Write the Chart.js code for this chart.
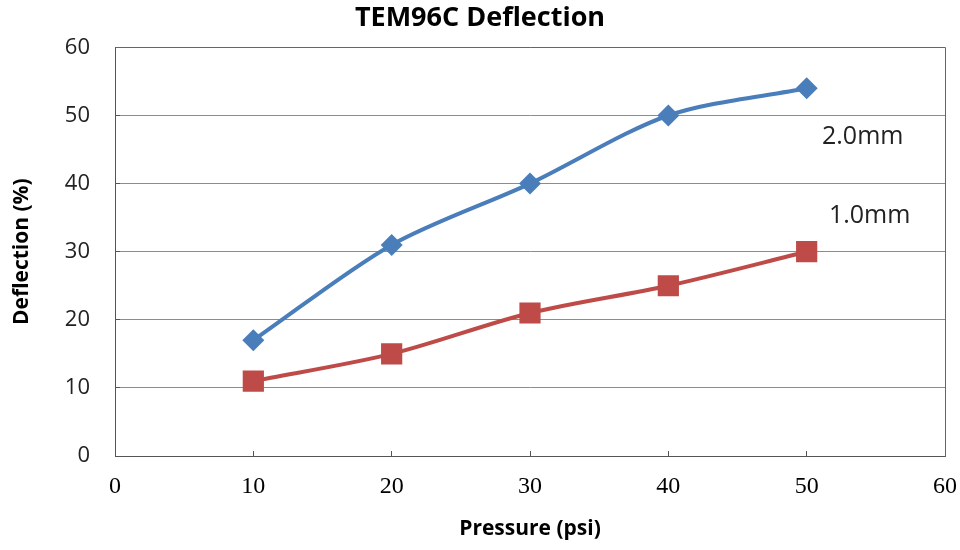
<!DOCTYPE html>
<html>
<head>
<meta charset="utf-8">
<script src="https://cdn.jsdelivr.net/npm/chart.js@4"></script>
<style>
  html, body { margin: 0; padding: 0; background: #fff; }
  #wrap { width: 960px; height: 550px; }
</style>
</head>
<body>
<div id="wrap"><canvas id="c" width="960" height="550"></canvas></div>
<script>
const pressure = [10, 20, 30, 40, 50];
const deflection20 = [17, 31, 40, 50, 54];
const deflection10 = [11, 15, 21, 25, 30];
const seriesNames = ['2.0mm', '1.0mm'];
const xTicks = [0, 10, 20, 30, 40, 50, 60];
const yTicks = [0, 10, 20, 30, 40, 50, 60];

const BLUE = '#4A7EBB';
const RED = '#BE4B48';

const toPoints = (xs, ys) => xs.map((x, i) => ({ x: x, y: ys[i] }));

// series label placement (in data units)
const seriesLabels = [
  { text: seriesNames[0], x: 54.05, y: 46.8 },
  { text: seriesNames[1], x: 54.55, y: 35.3 }
];

const frameAndLabels = {
  id: 'frameAndLabels',
  afterDraw(chart) {
    const { ctx, chartArea: a, scales } = chart;
    ctx.save();
    ctx.strokeStyle = '#666';
    ctx.lineWidth = 1;
    ctx.beginPath();
    ctx.moveTo(Math.round(a.left) + 0.5, Math.round(a.top) + 0.5);
    ctx.lineTo(Math.round(a.right) + 0.5, Math.round(a.top) + 0.5);
    ctx.lineTo(Math.round(a.right) + 0.5, Math.round(a.bottom) + 0.5);
    ctx.stroke();
    ctx.fillStyle = '#222';
    ctx.font = '25px "Open Sans"';
    ctx.textAlign = 'center';
    ctx.textBaseline = 'middle';
    seriesLabels.forEach(l => {
      ctx.fillText(l.text, scales.x.getPixelForValue(l.x), scales.y.getPixelForValue(l.y));
    });
    ctx.restore();
  }
};

new Chart(document.getElementById('c'), {
  type: 'line',
  data: {
    datasets: [
      {
        label: seriesNames[1],
        data: toPoints(pressure, deflection10),
        borderColor: RED,
        backgroundColor: RED,
        borderWidth: 4,
        pointStyle: 'rect',
        pointRadius: 15,
        pointHoverRadius: 15,
        pointBorderWidth: 0,
        tension: 0.3
      },
      {
        label: seriesNames[0],
        data: toPoints(pressure, deflection20),
        borderColor: BLUE,
        backgroundColor: BLUE,
        borderWidth: 4,
        pointStyle: 'rectRot',
        pointRadius: 11,
        pointHoverRadius: 11,
        pointBorderWidth: 0,
        tension: 0.3
      }
    ]
  },
  options: {
    responsive: false,
    animation: false,
    devicePixelRatio: 1,
    layout: { padding: { left: 0, right: 0, top: 0, bottom: 0 } },
    plugins: {
      legend: { display: false },
      tooltip: { enabled: false },
      title: {
        display: true,
        text: 'TEM96C Deflection',
        color: '#000',
        font: { family: '"Open Sans"', size: 27, weight: 'bold', lineHeight: 1.2 },
        padding: { top: 2, bottom: 13 }
      }
    },
    scales: {
      x: {
        type: 'linear',
        min: 0, max: 60,
        afterBuildTicks: s => { s.ticks = xTicks.map(v => ({ value: v })); },
        afterFit: s => { s.height = 94; s.paddingLeft = 0; s.paddingRight = 15; },
        border: { display: true, color: '#555', width: 1 },
        grid: { drawOnChartArea: false, drawTicks: true, tickLength: -5, tickColor: '#555' },
        ticks: {
          color: '#000',
          font: { family: '"Liberation Serif"', size: 24 },
          padding: 21
        },
        title: {
          display: true,
          text: 'Pressure (psi)',
          color: '#000',
          font: { family: '"Open Sans"', size: 21, weight: 'bold', lineHeight: 1.2 },
          padding: { top: 0, bottom: 8 }
        }
      },
      y: {
        type: 'linear',
        min: 0, max: 60,
        afterBuildTicks: s => { s.ticks = yTicks.map(v => ({ value: v })); },
        afterFit: s => { s.width = 115; s.paddingTop = 0; s.paddingBottom = 0; },
        border: { display: true, color: '#555', width: 1 },
        grid: { color: '#8c8c8c', lineWidth: 1, drawTicks: true, tickLength: -5, tickColor: '#555' },
        ticks: {
          color: '#222',
          font: { family: '"Open Sans"', size: 22 },
          padding: 30
        },
        title: {
          display: true,
          text: 'Deflection (%)',
          color: '#000',
          font: { family: '"Open Sans"', size: 21, weight: 'bold', lineHeight: 1.2 },
          padding: { top: 9, bottom: 0 }
        }
      }
    }
  },
  plugins: [frameAndLabels]
});
</script>
</body>
</html>
